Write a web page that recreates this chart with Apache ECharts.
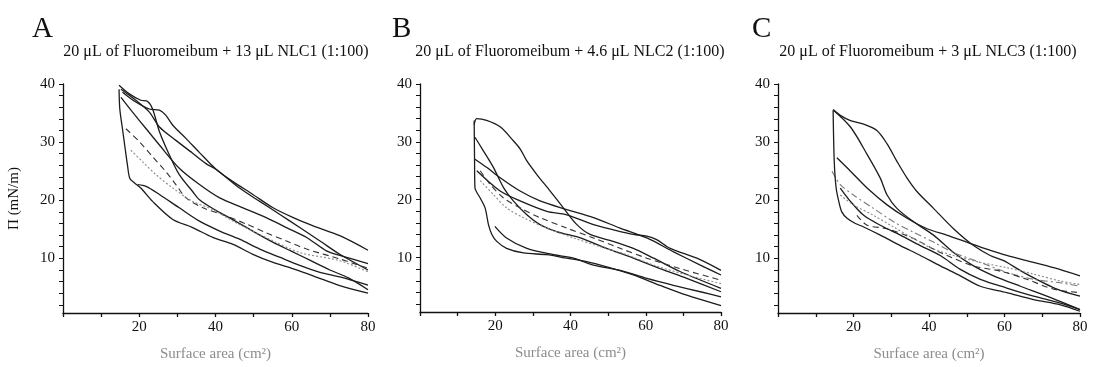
<!DOCTYPE html>
<html><head><meta charset="utf-8">
<script src="https://cdn.jsdelivr.net/npm/echarts@6/dist/echarts.min.js"></script>
<style>html,body{margin:0;padding:0;background:#fff}#c{width:1100px;height:367px}</style>
</head><body><div id="c"></div><script>
// ---------- text / ticks ----------
const panelLetters = ['A', 'B', 'C'];
const panelTitles = [
  '20 μL of Fluoromeibum + 13 μL NLC1 (1:100)',
  '20 μL of Fluoromeibum + 4.6 μL NLC2 (1:100)',
  '20 μL of Fluoromeibum + 3 μL NLC3 (1:100)'
];
const yAxisName = 'Π (mN/m)';
const xAxisName = 'Surface area (cm²)';
const yTickLabels = [10, 20, 30, 40];
const yMinorTicks = [2, 4, 6, 8, 10, 12, 14, 16, 18, 20, 22, 24, 26, 28, 30, 32, 34, 36, 38, 40];
const xTickLabels = [20, 40, 60, 80];

// ---------- panel A curves [area, pressure] ----------
const A1 = [[14.7,39.8],[17.4,38.3],[20.4,37.2],[22.2,37.0],[23.5,35.7],[25.3,31.8],[27.9,27.8],[30.5,24.4],[34.0,21.5],[35.8,20.1],[40,18.3],[45,16.5],[50,14.6],[55,12.8],[60,11.2],[65,9.6],[70,8.0],[75,6.6],[80,4.6]];
const A2 = [[15.6,38.6],[19.1,36.9],[22.6,35.7],[25.3,35.5],[27.0,34.6],[28.8,32.9],[32.3,30.6],[35.8,28.2],[40.2,25.3],[44.6,23.2],[49.8,21.0],[55.1,18.7],[60.4,17.0],[65.6,15.6],[72.6,13.9],[80,11.4]];
const A3 = [[15.2,39.1],[19.1,37.2],[22.6,35.2],[25.3,32.6],[29.6,30.3],[34.0,28.1],[37.5,26.3],[40.2,25.3],[46.3,22.1],[51.6,19.8],[56.8,17.6],[62.1,15.3],[67.4,13.0],[72.6,10.7],[80,8.0]];
const A4 = [[15.2,37.7],[18.2,35.2],[21.8,32.3],[25.3,29.5],[30.5,25.5],[35.8,22.7],[41.1,20.4],[47.2,18.7],[53.3,17.0],[58.6,15.3],[63.9,13.6],[69.1,11.3],[72.6,10.5],[80,9.1]];
const A5 = [[16.5,32.3],[20.0,30.1],[23.5,27.5],[27.0,24.9],[29.6,22.7],[32.3,20.4],[36.7,18.7],[42.8,17.3],[48.1,15.9],[53.3,14.4],[58.6,13.0],[63.9,11.6],[72.6,9.9],[80,8.3]];
const A6 = [[17.8,28.6],[20.9,26.6],[24.4,24.4],[28.8,22.1],[34.0,19.8],[39.3,18.4],[44.6,16.4],[49.8,14.7],[55.1,13.0],[62.1,11.0],[72.6,9.6],[80,7.7]];
const A7 = [[19.6,22.7],[21.8,22.4],[25.3,21.0],[30.5,18.7],[35.8,16.4],[41.1,14.7],[46.3,13.3],[51.6,11.6],[56.8,10.2],[62.1,8.8],[67.4,7.6],[72.6,6.8],[80,5.4]];
const A8 = [[14.7,39.1],[14.9,35.7],[15.6,32.3],[16.3,28.9],[16.9,26.1],[17.5,23.8],[18.7,23.0],[20.4,22.1],[23.5,19.8],[28.8,16.7],[34.0,15.3],[39.3,13.6],[44.6,12.4],[49.8,10.7],[55.1,9.3],[60.4,8.2],[65.6,7.0],[72.6,5.3],[80,4.0]];

// ---------- panel B curves ----------
const B1 = [[14.4,33.0],[15.1,34.0],[17.7,33.7],[21.3,32.6],[24.8,30.2],[26.6,28.8],[28.4,26.7],[31.0,24.4],[34.6,21.5],[38.1,18.6],[41.7,15.7],[45.2,14.0],[51.4,12.8],[56.7,11.6],[62.1,9.9],[69.1,7.6],[80,4.7]];
const B2 = [[15.1,25.0],[21.3,21.5],[26.6,19.8],[33.7,18.0],[39.0,17.4],[46.1,15.7],[51.4,14.8],[56.7,14.0],[60.3,13.7],[62.9,13.1],[66.5,11.6],[73.6,9.9],[80,7.8]];
const B3 = [[14.6,30.8],[16.8,28.5],[19.5,25.6],[22.2,22.1],[24.8,19.8],[28.4,17.4],[31.9,15.7],[36.3,14.5],[42.6,13.4],[49.6,11.6],[56.7,9.9],[63.8,8.1],[70.9,6.4],[80,4.1]];
const B4 = [[14.6,27.0],[17.7,25.6],[21.3,23.8],[26.6,21.5],[31.9,19.8],[39.0,18.3],[46.1,16.9],[53.2,15.1],[60.3,13.4],[67.4,11.0],[74.5,8.7],[80,7.0]];
const B5 = [[16.0,25.0],[18.6,22.7],[22.2,20.3],[26.6,18.6],[31.9,16.9],[39.0,15.1],[46.1,13.4],[53.2,11.6],[60.3,9.9],[69.1,8.1],[80,6.1]];
const B6 = [[16.0,23.3],[19.5,20.9],[23.0,18.6],[27.5,16.9],[33.7,15.1],[40.8,13.4],[47.9,11.9],[55.0,10.5],[62.1,8.7],[70.9,7.0],[80,5.5]];
const B7 = [[14.4,33.7],[14.5,26.7],[14.6,22.1],[16.0,20.3],[17.3,18.6],[18.2,15.7],[19.1,14.0],[20.4,12.8],[23.0,11.6],[27.5,10.8],[33.7,10.5],[39.0,9.9],[44.3,9.3],[49.6,8.4],[56.7,7.0],[63.8,5.2],[70.9,3.5],[80,1.7]];
const B8 = [[19.9,15.4],[23.0,13.4],[28.4,11.6],[35.5,10.5],[40.8,9.9],[46.1,8.7],[53.2,7.8],[60.3,6.4],[67.4,5.2],[74.5,4.1],[80,3.2]];

// ---------- panel C curves ----------
const C1 = [[14.6,35.6],[16.5,34.6],[19.2,33.7],[22.7,33.1],[26.2,32.0],[28.9,29.7],[31.5,26.7],[34.2,23.8],[36.8,21.5],[41.2,18.6],[46.5,15.1],[51.8,12.2],[56.2,10.5],[59.8,9.6],[65.0,7.6],[73.9,4.7],[80,3.5]];
const C2 = [[14.7,35.5],[19.2,32.6],[23.6,27.9],[27.1,23.8],[28.9,20.9],[31.5,18.6],[35.9,16.3],[41.2,14.0],[46.5,11.0],[51.8,8.7],[57.1,7.0],[64.2,5.2],[71.2,3.5],[80,1.2]];
const C3 = [[15.6,27.3],[19.2,25.0],[23.6,22.1],[28.9,19.2],[34.2,16.9],[39.5,15.1],[44.7,14.0],[50.0,12.8],[55.3,11.6],[60.6,10.5],[65.9,9.6],[73.0,8.4],[80,7.0]];
const C4 = [[14.3,25.0],[16.5,22.7],[20.0,20.9],[25.3,18.6],[30.6,16.3],[35.9,14.5],[41.2,12.8],[46.5,11.0],[53.6,9.3],[60.6,7.6],[67.7,6.4],[74.8,5.8],[80,5.2]];
const C5 = [[20.9,17.4],[23.6,15.7],[28.9,15.1],[35.9,13.4],[43.0,11.0],[51.8,8.7],[58.9,7.8],[65.9,6.4],[73.0,4.7],[80,4.1]];
const C6 = [[14.6,35.5],[14.9,26.7],[15.4,22.1],[16.1,19.8],[16.9,18.0],[18.3,16.9],[20.5,16.0],[22.7,15.4],[27.1,14.0],[32.4,12.2],[37.7,10.5],[43.0,8.7],[48.3,7.0],[53.6,5.2],[60.6,4.1],[67.7,2.9],[74.8,2.0],[80,0.9]];
const C7 = [[16.5,22.1],[19.2,19.8],[22.7,17.4],[27.1,15.7],[32.4,14.0],[37.7,12.2],[43.0,10.5],[48.3,8.1],[53.6,6.4],[60.6,4.9],[67.7,3.5],[74.8,2.3],[80,1.2]];
const C8 = [[16.5,20.9],[20.0,19.2],[25.3,17.4],[30.6,15.4],[35.9,13.4],[41.2,11.6],[46.5,10.5],[53.6,9.3],[60.6,8.4],[67.7,7.3],[74.8,6.1],[80,5.5]];

const panelCurves = [
  [A1, A2, A3, A4, A5, A6, A7, A8],
  [B1, B2, B3, B4, B5, B6, B7, B8],
  [C1, C2, C3, C4, C5, C6, C7, C8]
];

// ---------- styles (not data) ----------
const SOLID = { color: '#1c1c1c', width: 1.3, type: 'solid' };
const DASH = { color: '#333', width: 1.1, type: [6, 4] };
const DOT = { color: '#8a8a8a', width: 1.1, type: [2, 2] };
const DASHDOT = { color: '#7a7a7a', width: 1.1, type: [7, 3, 2, 3] };
const panelStyles = [
  [SOLID, SOLID, SOLID, SOLID, DASH, DOT, SOLID, SOLID],
  [SOLID, SOLID, SOLID, SOLID, DASH, DOT, SOLID, SOLID],
  [SOLID, SOLID, SOLID, DASHDOT, DASH, SOLID, SOLID, DOT]
];
const grids = [
  { left: 63, top: 84, width: 305, height: 230 },
  { left: 420, top: 84, width: 301, height: 228 },
  { left: 778, top: 84, width: 302, height: 229 }
];
const titleCenters = [211, 565, 923];
const letterLefts = [27, 387, 747];
const FONT = 'Liberation Serif';

const chart = echarts.init(document.getElementById('c'), null, { renderer: 'canvas' });
const titles = [];
panelLetters.forEach((l, i) => titles.push({ text: l, left: letterLefts[i], top: 10,
  textStyle: { fontFamily: FONT, fontSize: 29, fontWeight: 'normal', color: '#111' } }));
panelTitles.forEach((t, i) => titles.push({ text: t, left: titleCenters[i], top: 39, textAlign: 'center',
  textStyle: { fontFamily: FONT, fontSize: 16, fontWeight: 'normal', color: '#111' } }));

const xAxes = [], yAxes = [], series = [];
grids.forEach((g, i) => {
  xAxes.push({ gridIndex: i, type: 'value', min: 0, max: 80, interval: 10,
    name: xAxisName, nameLocation: 'middle', nameGap: 34,
    nameTextStyle: { fontFamily: FONT, fontSize: 15, color: '#8c8c8c' },
    axisLine: { lineStyle: { color: '#111', width: 1.3 } },
    axisTick: { show: true, length: 4, inside: false, lineStyle: { color: '#111', width: 1.3 } },
    axisLabel: { fontFamily: FONT, fontSize: 15, color: '#111', margin: 7,
      formatter: v => xTickLabels.indexOf(v) >= 0 ? String(v) : '' },
    splitLine: { show: false } });
  yAxes.push({ gridIndex: i, type: 'value', min: 0.6, max: 40,
    name: i === 0 ? yAxisName : '', nameLocation: 'middle', nameGap: 41, nameRotate: 90,
    nameTextStyle: { fontFamily: FONT, fontSize: 15, color: '#111' },
    axisLine: { show: true, lineStyle: { color: '#111', width: 1.3 } },
    axisTick: { show: true, length: 4, customValues: yMinorTicks, lineStyle: { color: '#111', width: 1 } },
    axisLabel: { fontFamily: FONT, fontSize: 15, color: '#111', margin: 8, customValues: yTickLabels },
    splitLine: { show: false } });
  panelCurves[i].forEach((curve, k) => {
    series.push({ type: 'line', xAxisIndex: i, yAxisIndex: i, data: curve,
      showSymbol: false, smooth: 0.3, silent: true, lineStyle: panelStyles[i][k] });
  });
});

chart.setOption({
  backgroundColor: '#fff', animation: false,
  title: titles, grid: grids, xAxis: xAxes, yAxis: yAxes, series: series
});
</script></body></html>
